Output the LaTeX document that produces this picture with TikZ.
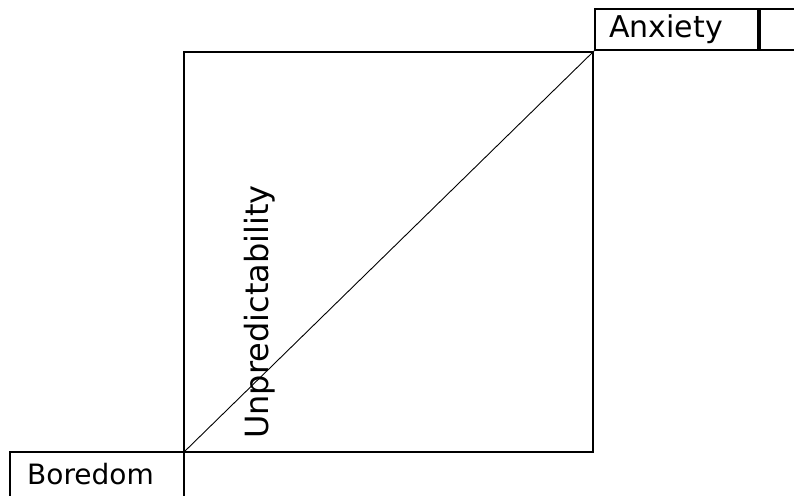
\documentclass[tikz,border=0pt]{standalone}
\usepackage{fontspec}
\setmainfont{DejaVu Sans}
\tikzset{
  flow box/.style={draw=black,line width=2pt,inner sep=0pt,anchor=south west},
  flow label/.style={inner sep=0pt,anchor=base west,font=\fontsize{28}{32}\selectfont},
  flow diag/.style={black,line width=0.9pt}
}
\begin{document}
\begin{tikzpicture}[x=1pt,y=1pt]
  \useasboundingbox (0,0) rectangle (794,495);
  \node[flow box,minimum width=409pt,minimum height=400pt] (sq) at (183,42) {};
  \node[flow box,minimum width=163pt,minimum height=41pt] (anx) at (sq.north east) {};
  \node[flow box,minimum width=50pt,minimum height=41pt] (anxr) at (anx.south east) {};
  \node[flow box,minimum width=174pt,minimum height=47pt] (bor) at (9,-5) {};
  \node[flow label,font=\fontsize{30}{34}\selectfont] (anxt) at ([xshift=15pt,yshift=13pt]anx.south west) {Anxiety};
  \node[flow label] (bort) at ([xshift=18pt,yshift=16pt]bor.south west) {Boredom};
  \node[inner sep=0pt,anchor=base,rotate=90,font=\fontsize{32}{36}\selectfont]
    (unp) at (268,183) {Unpredictability};
  \draw[flow diag] (sq.south west) -- (sq.north east);
\end{tikzpicture}
\end{document}
